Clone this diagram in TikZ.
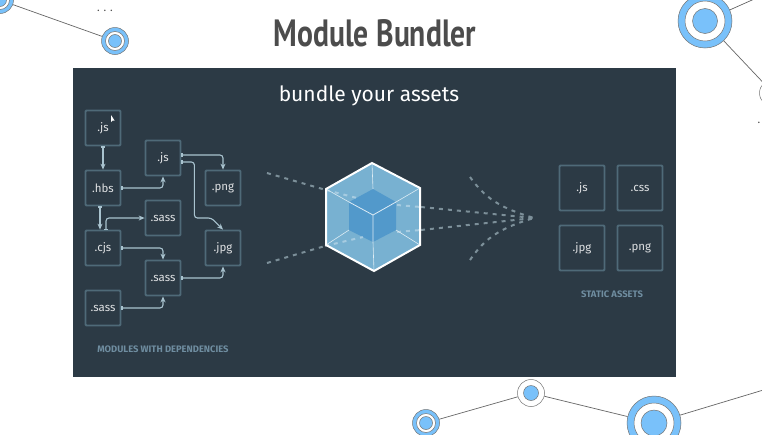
\documentclass[tikz,border=0pt]{standalone}
\usepackage{fontspec}
\usetikzlibrary{arrows.meta}
\setmainfont{Fira Sans}
\newfontfamily\titlefont[FakeStretch=0.78]{PT Sans}
\definecolor{panelbg}{HTML}{2C3A45}
\definecolor{boxline}{HTML}{4F6A78}
\definecolor{linkline}{HTML}{A9C3CF}
\definecolor{capcolor}{HTML}{6F8DA0}
\definecolor{dashline}{HTML}{7C8F99}
\definecolor{ringblue}{HTML}{79C1FA}
\definecolor{faceouter}{HTML}{78B1D1}
\definecolor{faceinner}{HTML}{5299CB}
\tikzset{
  modbox/.style={draw=boxline,line width=1.8pt,rounded corners=1pt,minimum size=35pt,inner sep=0pt,text=white!85!panelbg,font=\fontsize{11.5}{13}\selectfont},
  assetbox/.style={modbox,minimum size=45pt},
  caption/.style={text=capcolor,font=\fontsize{9.4}{11}\selectfont\bfseries},
  link/.style={draw=linkline,line width=1.1pt,rounded corners=3pt,arrows={Bar[width=3.5pt,length=.9pt]-Stealth[length=6pt,width=5pt]}},
  dashpath/.style={draw=dashline,line width=2pt,dash pattern=on 4pt off 5pt},
  netline/.style={draw=black!60,line width=.7pt},
  ringout/.style={circle,draw=black!55,line width=.5pt,fill=ringblue,inner sep=0pt,minimum size=#1},
  ringwhite/.style={circle,draw=black!55,line width=.5pt,fill=white,inner sep=0pt,minimum size=#1},
}
\begin{document}
\begin{tikzpicture}[x=1pt,y=-1pt]
\useasboundingbox (0,0) rectangle (762,434);
\clip (0,0) rectangle (762,434);
\fill[white] (0,0) rectangle (762,434);
% background network
\node[ringout=27pt] (tlA) at (0,0) {};
\node[ringout=27pt] (tlB) at (115,41) {};
\node[ringout=54pt] (trA) at (705,21) {};
\node[ringwhite=27pt] (trB) at (773,93) {};
\node[ringout=27pt] (brA) at (426,423) {};
\node[ringwhite=27pt] (brB) at (531,393) {};
\node[ringout=54pt] (brC) at (654,423) {};
\coordinate (trEnd) at (770,-8);
\coordinate (brEnd) at (770,388);
\draw[netline] (tlA) -- (tlB);
\draw[netline] (trA) -- (trEnd);
\draw[netline] (trA) -- (trB);
\draw[netline] (brA) -- (brB);
\draw[netline] (brB) -- (brC);
\draw[netline] (brC) -- (brEnd);
\node[ringwhite=19pt] at (tlA) {};
\node[ringwhite=19pt] at (tlB) {};
\node[ringwhite=40pt] at (trA) {};
\node[ringwhite=19pt] at (brA) {};
\node[ringwhite=40pt] at (brC) {};
\node[ringout=13pt] at (tlA) {};
\node[ringout=13pt] at (tlB) {};
\node[ringout=25pt] at (trA) {};
\node[ringout=15pt] at (trB) {};
\node[ringout=13pt] at (brA) {};
\node[ringout=15pt] at (brB) {};
\node[ringout=26pt] at (brC) {};
\node[text=black!70,font=\fontsize{11}{12}\selectfont] (dotsA) at (105,11) {. . .};
\node[text=black!70,font=\fontsize{11}{12}\selectfont] (dotsB) at (759,123) {.};
\node[text=black!70,font=\fontsize{38}{42}\titlefont\bfseries] (title) at (375,33) {Module Bundler};
% panel
\fill[panelbg] (73,68) rectangle (676,377);
\node[text=white,font=\fontsize{21}{25}\selectfont] (head) at (369,96) {bundle your assets};
% modules
\node[modbox] (jsA) at (103,128) {.js};
\node[modbox] (jsB) at (163,158) {.js};
\node[modbox] (hbs) at (103,188) {.hbs};
\node[modbox] (pngA) at (223,188) {.png};
\node[modbox] (sassA) at (163,218) {.sass};
\node[modbox] (cjs) at (103,248) {.cjs};
\node[modbox] (jpgA) at (223,248) {.jpg};
\node[modbox] (sassB) at (163,278) {.sass};
\node[modbox] (sassC) at (103,308) {.sass};
\node[caption] (modcap) at (163,349) {MODULES WITH DEPENDENCIES};
\draw[link] (jsA) -- (hbs);
\draw[link] (hbs.east) -| (jsB.south);
\draw[link] ([xshift=-3pt]hbs.south) -- ([xshift=-3pt]cjs.north);
\draw[link] ([xshift=3pt]cjs.north) |- (sassA.west);
\draw[link] (cjs.east) -| (sassB.north);
\draw[link] (sassC.east) -| (sassB.south);
\draw[link] (sassB.east) -| (jpgA.south);
\draw[link] ([yshift=3pt]jsB.east) -| (pngA.north);
\draw[link] ([yshift=-4pt]jsB.east) -- ++(13,0) |- ++(17,56) -- (jpgA.north);
% dashed paths
\coordinate (inA) at (267,173);
\coordinate (inAe) at (326,190);
\coordinate (inB) at (267,263);
\coordinate (inBe) at (325,246);
\coordinate (outA) at (421,207);
\coordinate (outB) at (421,230);
\coordinate (tip) at (534,218);
\coordinate (wingA) at (470,177);
\coordinate (wingB) at (470,260);
\draw[dashpath] (inA) -- (inAe);
\draw[dashpath] (inB) -- (inBe);
\draw[dashpath] (outA) -- (tip);
\draw[dashpath] (outB) -- (tip);
\draw[dashpath] (wingA) .. controls (485,198) and (500,208) .. (tip);
\draw[dashpath] (wingB) .. controls (485,238) and (500,228) .. (tip);
% cube
\fill[faceouter] (372,163) -- (420,188) -- (420,245) -- (374,271) -- (326,245) -- (326,189) -- cycle;
\fill[faceinner] (373,189) -- (396,202) -- (396,230) -- (373,242) -- (349,230) -- (349,202) -- cycle;
\draw[dashpath,opacity=.35,white] (326,190) -- (357,198);
\draw[dashpath,opacity=.35,white] (325,246) -- (363,237);
\draw[dashpath,opacity=.35,white] (397,205) -- (421,207);
\draw[dashpath,opacity=.35,white] (397,232) -- (421,230);
\draw[white!75!faceouter,line width=.6pt] (372,163) -- (373,189) (420,188) -- (396,202) (420,245) -- (396,230) (374,271) -- (373,242) (326,245) -- (349,230) (326,189) -- (349,202);
\draw[white!80!faceinner,line width=.8pt] (349,202) -- (373,215) -- (396,202) (373,215) -- (373,242);
\draw[white,line width=2pt,line join=miter] (372,163) -- (420,188) -- (420,245) -- (374,271) -- (326,245) -- (326,189) -- cycle;
% static assets
\node[assetbox] (jsC) at (582,188) {.js};
\node[assetbox] (css) at (640,188) {.css};
\node[assetbox] (jpgB) at (582,248) {.jpg};
\node[assetbox] (pngB) at (640,248) {.png};
\node[caption] (statcap) at (612,294) {STATIC ASSETS};
% cursor
\fill[white] (111,115) -- (111,122) -- (112.6,120.6) -- (114.6,120.6) -- cycle;
\end{tikzpicture}
\end{document}
